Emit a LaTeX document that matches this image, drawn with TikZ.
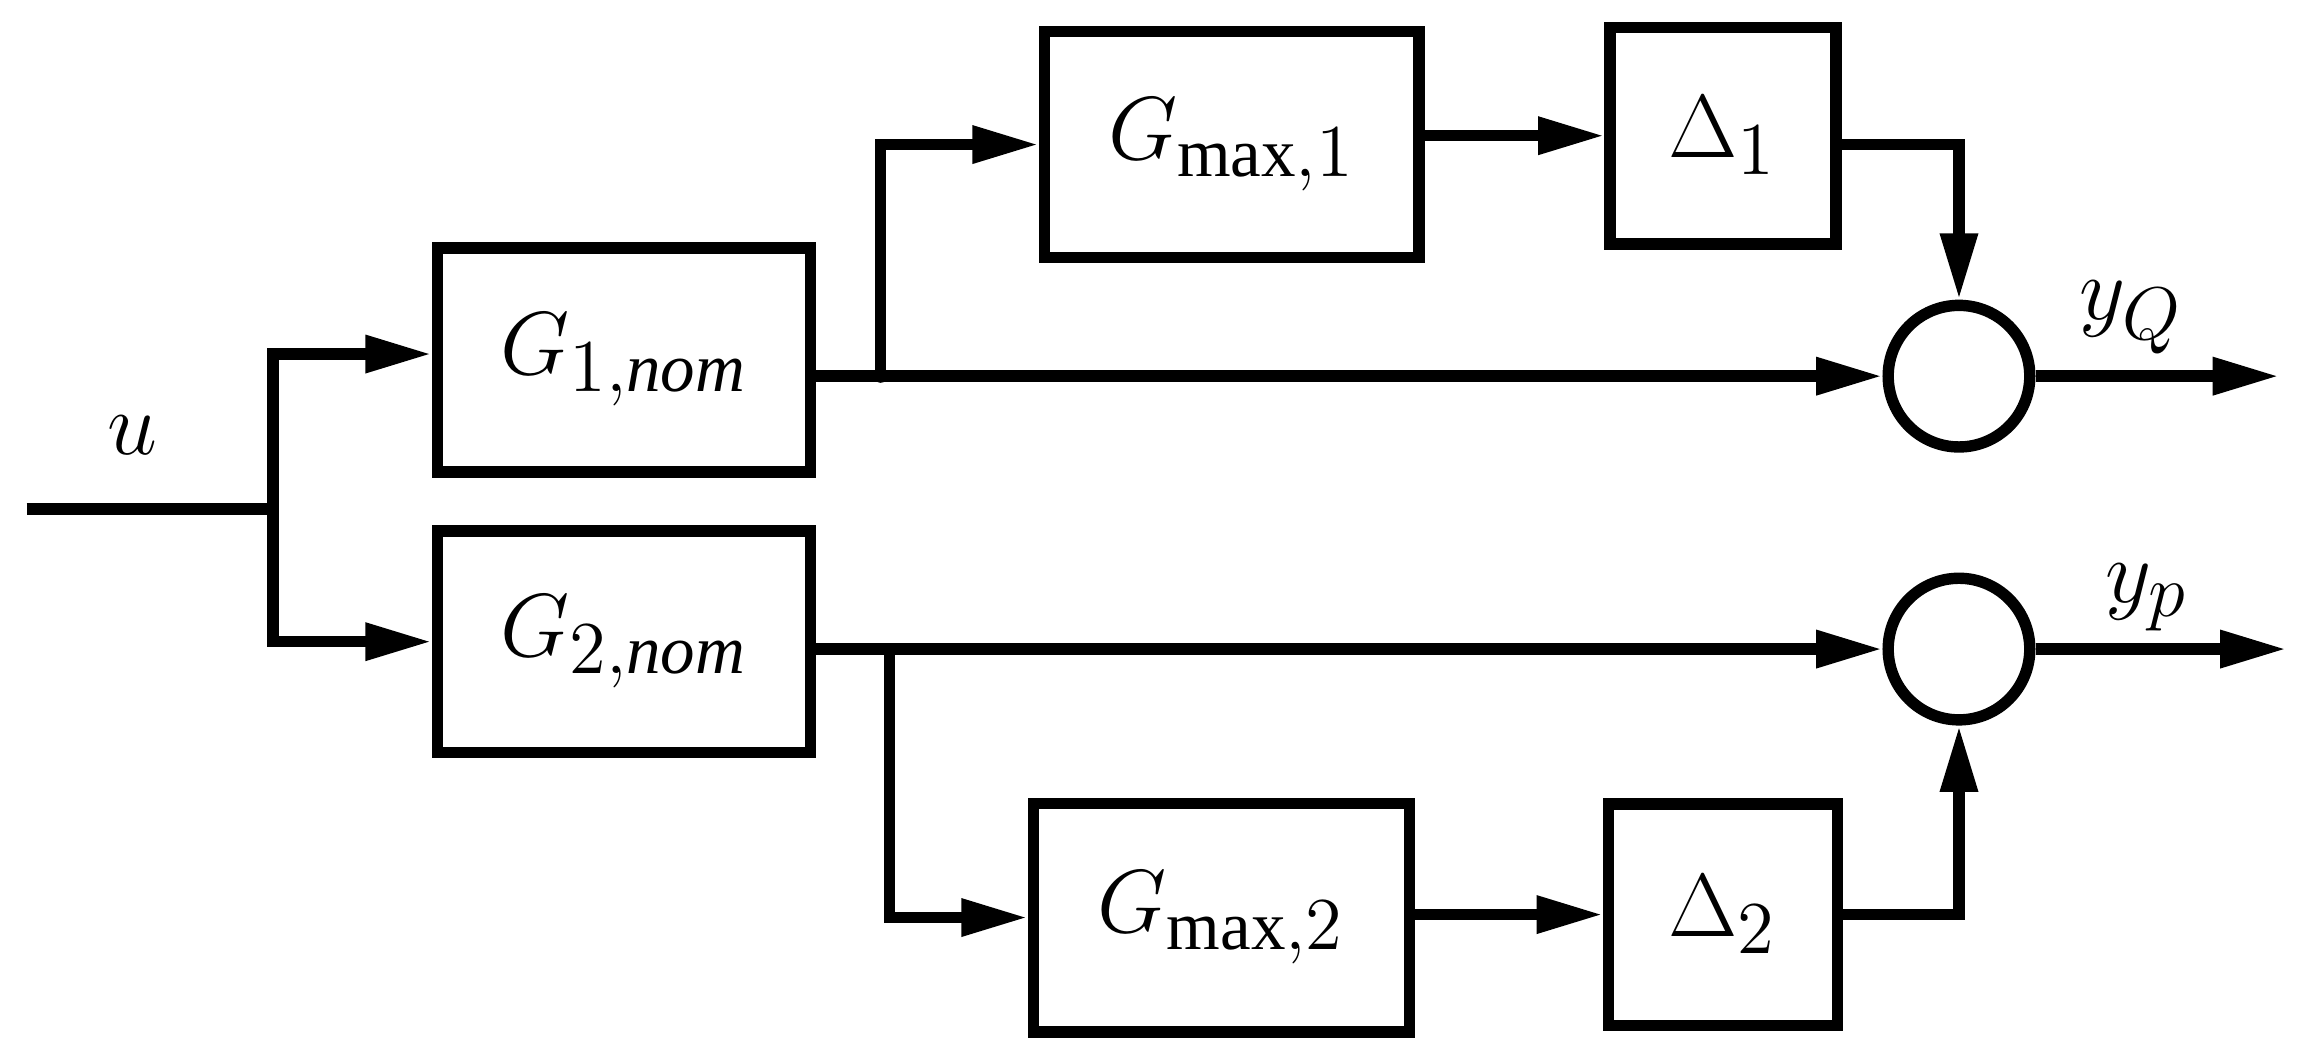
\documentclass[tikz,border=0pt]{standalone}
\usepackage{fontspec}
\setmainfont{Liberation Serif}
\usetikzlibrary{arrows.meta}
\tikzset{
  blk/.style={draw=black, line width=2.2pt, inner sep=0pt, font=\fontsize{19}{22}\selectfont},
  sum/.style={draw=black, line width=2.2pt, circle, minimum size=0.96cm, inner sep=0pt},
  sig/.style={line width=2.2pt, -{Triangle[length=0.45cm,width=0.24cm]}},
  wire/.style={line width=2.2pt},
  lbl/.style={font=\fontsize{19}{22}\selectfont}
}
\begin{document}
\begin{tikzpicture}
\useasboundingbox (0,0) rectangle (15.68,-7.13);

% Blocks
\node (g1) [blk, minimum width=2.53cm, minimum height=1.52cm] at (4.23,-2.44) {$G_{1,\mathit{nom}}$};
\node (g2) [blk, minimum width=2.53cm, minimum height=1.50cm] at (4.23,-4.35) {$G_{2,\mathit{nom}}$};
\node (gm1) [blk, minimum width=2.54cm, minimum height=1.53cm] at (8.35,-0.98) {$G_{\max,1}$};
\node (d1) [blk, minimum width=1.53cm, minimum height=1.47cm] at (11.68,-0.92) {$\Delta_1$};
\node (gm2) [blk, minimum width=2.55cm, minimum height=1.55cm] at (8.28,-6.22) {$G_{\max,2}$};
\node (d2) [blk, minimum width=1.55cm, minimum height=1.50cm] at (11.68,-6.20) {$\Delta_2$};
\node (sq) [sum] at (13.28,-2.55) {};
\node (sp) [sum] at (13.28,-4.40) {};

% Ends and branch points
\coordinate (uin) at (0.18,-3.45);
\coordinate (bu) at (1.85,-3.45);
\coordinate (b1) at (5.97,-2.55);
\coordinate (b2) at (6.03,-4.40);
\coordinate (yq) at (15.45,-2.55);
\coordinate (yp) at (15.50,-4.40);
\node (u) [lbl] at (0.90,-2.95) {$u$};
\node (lq) [lbl] at (14.45,-2.15) {$y_Q$};
\node (lp) [lbl] at (14.55,-4.05) {$y_p$};

% Connectors
\draw [wire] (uin) -- (bu);
\draw [sig] (bu) |- (g1.west |- 0,-2.40);
\draw [sig] (bu) |- (g2.west);
\draw [sig] (g1.east |- sq.west) -- (sq.west);
\fill (b1) circle (0.045);
\draw [sig] (b1) |- (gm1.west);
\draw [sig] (gm1.east |- d1.west) -- (d1.west);
\draw [sig] (d1.east |- 0,-0.98) -| (sq.north);
\draw [sig] (sq.east) -- (yq);
\draw [sig] (g2.east |- sp.west) -- (sp.west);
\draw [sig] (b2) |- (gm2.west);
\draw [sig] (gm2.east |- d2.west) -- (d2.west);
\draw [sig] (d2.east) -| (sp.south);
\draw [sig] (sp.east) -- (yp);
\end{tikzpicture}
\end{document}
